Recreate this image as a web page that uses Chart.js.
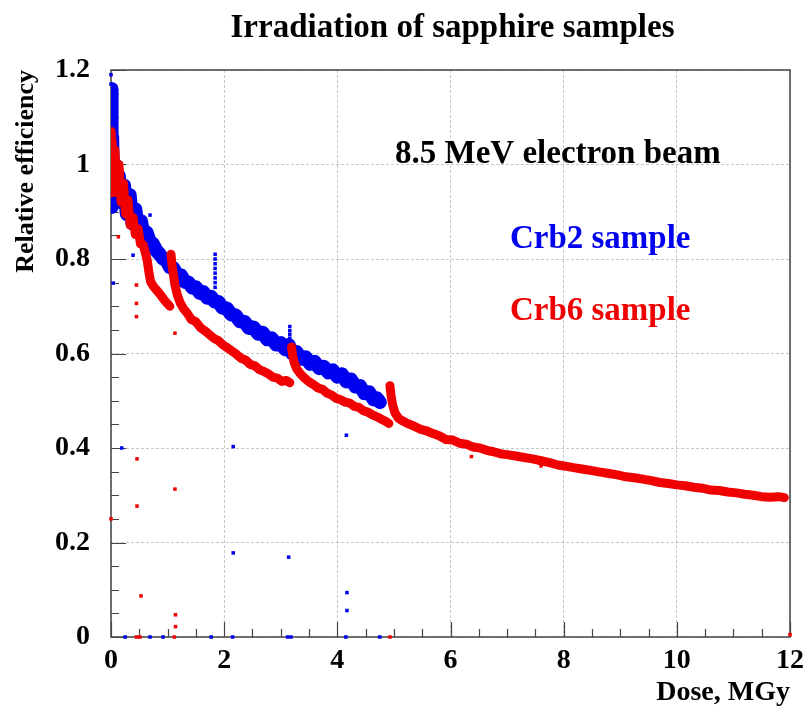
<!DOCTYPE html>
<html>
<head>
<meta charset="utf-8">
<title>Irradiation of sapphire samples</title>
<script src="https://cdn.jsdelivr.net/npm/chart.js@4.4.1/dist/chart.umd.min.js"></script>
<style>
  body { margin: 0; background: #fff; }
  #wrap { width: 811px; height: 707px; }
</style>
</head>
<body>
<div id="wrap"><canvas id="chart" width="811" height="707"></canvas></div>
<script>
// Crb2 sample (blue) - dense band
const crb2Dose = [0, 0.005, 0.01, 0.015, 0.02, 0.04, 0.07, 0.1, 0.14, 0.18, 0.23, 0.28, 0.33, 0.38, 0.43, 0.48, 0.53, 0.58, 0.63, 0.68, 0.74, 0.8, 0.86, 0.92, 0.98, 1.04, 1.1, 1.17, 1.24, 1.3, 1.37, 1.44, 1.5, 1.57, 1.63, 1.7, 1.77, 1.83, 1.9, 1.97, 2.05, 2.12, 2.2, 2.28, 2.36, 2.44, 2.52, 2.6, 2.68, 2.76, 2.84, 2.92, 3.0, 3.08, 3.14, 3.2, 3.28, 3.36, 3.44, 3.52, 3.6, 3.68, 3.76, 3.84, 3.92, 4.0, 4.08, 4.16, 4.24, 4.32, 4.4, 4.48, 4.56, 4.64, 4.7, 4.75];
const crb2Eff = [1.16, 0.91, 1.12, 0.92, 1.06, 0.93, 1.0, 0.935, 0.975, 0.92, 0.955, 0.895, 0.935, 0.875, 0.905, 0.86, 0.88, 0.848, 0.856, 0.838, 0.832, 0.818, 0.81, 0.801, 0.797, 0.783, 0.781, 0.766, 0.765, 0.752, 0.75, 0.739, 0.74, 0.728, 0.73, 0.718, 0.72, 0.71, 0.709, 0.697, 0.695, 0.683, 0.681, 0.668, 0.667, 0.654, 0.655, 0.642, 0.644, 0.63, 0.632, 0.619, 0.622, 0.609, 0.618, 0.601, 0.603, 0.589, 0.592, 0.578, 0.582, 0.569, 0.572, 0.56, 0.564, 0.551, 0.556, 0.541, 0.545, 0.53, 0.531, 0.516, 0.518, 0.503, 0.505, 0.497];

// Crb6 sample (red) - null marks a break between runs
const crb6Dose = [0, 0.005, 0.02, 0.04, 0.07, 0.1, 0.14, 0.18, 0.22, 0.26, 0.3, 0.34, 0.39, 0.43, 0.48, 0.52, 0.57, 0.61, 0.64, 0.67, 0.7, 0.75, 0.8, 0.85, 0.9, 0.95, 1.0, 1.04,
  1.05,
  1.06, 1.08, 1.1, 1.13, 1.17, 1.22, 1.28, 1.35, 1.42, 1.5, 1.58, 1.66, 1.74, 1.82, 1.9, 1.98, 2.06, 2.14, 2.22, 2.3, 2.38, 2.46, 2.54, 2.62, 2.7, 2.78, 2.86, 2.94, 3.02, 3.1, 3.16,
  3.17,
  3.19, 3.21, 3.24, 3.28, 3.34, 3.42, 3.5, 3.58, 3.66, 3.74, 3.82, 3.9, 3.98, 4.06, 4.14, 4.22, 4.3, 4.38, 4.46, 4.54, 4.62, 4.7, 4.78, 4.86, 4.91,
  4.92,
  4.93, 4.95, 4.98, 5.02, 5.08, 5.16, 5.26, 5.36, 5.46, 5.56, 5.68, 5.8, 5.92, 6.04, 6.16, 6.28, 6.4, 6.52, 6.64, 6.76, 6.88, 7.0, 7.15, 7.3, 7.45, 7.6, 7.75, 7.9, 8.05, 8.2, 8.35, 8.5, 8.65, 8.8, 8.95, 9.1, 9.25, 9.4, 9.55, 9.7, 9.85, 10.0, 10.15, 10.3, 10.45, 10.6, 10.75, 10.9, 11.05, 11.2, 11.35, 11.5, 11.65, 11.8, 11.9];
const crb6Eff = [1.07, 0.94, 1.05, 0.95, 1.03, 0.94, 1.0, 0.92, 0.96, 0.895, 0.925, 0.872, 0.888, 0.852, 0.864, 0.832, 0.83, 0.812, 0.797, 0.772, 0.752, 0.742, 0.735, 0.728, 0.72, 0.712, 0.705, 0.7,
  null,
  0.81, 0.785, 0.77, 0.745, 0.725, 0.708, 0.695, 0.685, 0.672, 0.667, 0.655, 0.648, 0.64, 0.632, 0.627, 0.618, 0.612, 0.605, 0.598, 0.59, 0.586, 0.577, 0.574, 0.566, 0.562, 0.557, 0.55, 0.548, 0.541, 0.543, 0.538,
  null,
  0.614, 0.596, 0.58, 0.568, 0.558, 0.548, 0.54, 0.534, 0.527, 0.524, 0.516, 0.512, 0.505, 0.502, 0.497, 0.495, 0.488, 0.486, 0.479, 0.476, 0.47, 0.466, 0.461, 0.456, 0.452,
  null,
  0.532, 0.51, 0.49, 0.474, 0.463, 0.457, 0.451, 0.446, 0.44, 0.437, 0.431, 0.426, 0.418, 0.417, 0.41, 0.408, 0.402, 0.4, 0.395, 0.392, 0.388, 0.386, 0.383, 0.38, 0.377, 0.373, 0.369, 0.364, 0.361, 0.358, 0.355, 0.352, 0.349, 0.346, 0.343, 0.339, 0.337, 0.334, 0.331, 0.327, 0.325, 0.322, 0.32, 0.317, 0.315, 0.311, 0.31, 0.307, 0.305, 0.302, 0.3, 0.297, 0.296, 0.297, 0.295];

// stray points
const crb2OutDose = [0, 0, 0.04, 0.39, 0.19, 0.69, 1.84, 1.84, 1.84, 1.84, 1.84, 1.84, 1.84, 1.84, 2.16, 2.16, 3.16, 3.16, 3.16, 3.16, 3.14, 4.16, 4.17, 4.17, 0.25, 0.69, 0.92, 1.77, 2.15, 3.12, 3.18, 4.15, 4.75];
const crb2OutEff = [1.19, 1.17, 0.749, 0.808, 0.40, 0.893, 0.81, 0.8, 0.79, 0.78, 0.77, 0.76, 0.75, 0.74, 0.403, 0.178, 0.657, 0.648, 0.64, 0.632, 0.169, 0.427, 0.094, 0.056, 0, 0, 0, 0, 0, 0, 0, 0, 0];
const crb6OutDose = [0, 0.13, 0.45, 0.45, 0.45, 0.46, 0.46, 0.53, 1.13, 1.13, 1.14, 1.14, 6.37, 7.6, 0.45, 0.51, 1.12, 4.93, 12.0];
const crb6OutEff = [0.25, 0.847, 0.745, 0.706, 0.678, 0.377, 0.277, 0.087, 0.643, 0.313, 0.047, 0.022, 0.382, 0.362, 0, 0, 0, 0, 0.005];

// axes
const xTickValues = [0, 2, 4, 6, 8, 10, 12];
const xTickLabels = ['0', '2', '4', '6', '8', '10', '12'];
const yTickValues = [0, 0.2, 0.4, 0.6, 0.8, 1.0, 1.2];
const yTickLabels = ['0', '0.2', '0.4', '0.6', '0.8', '1', '1.2'];
const xMinorStep = 0.5;
const yMinorStep = 0.05;

const BLUE = '#0000f0';
const RED = '#f00000';
const SERIF = '"Liberation Serif", "Times New Roman", serif';

function toPoints(xs, ys) {
  return xs.map((x, i) => ({ x: x, y: ys[i] }));
}

// title, annotations, frame and ROOT-like inner ticks
const decorations = {
  id: 'decorations',
  beforeDatasetsDraw(chart) {
    const { ctx, chartArea: a, scales: { x, y } } = chart;
    ctx.save();
    ctx.strokeStyle = '#444';
    ctx.lineWidth = 1.2;
    ctx.beginPath();
    for (let v = 0; v <= 12 + 1e-9; v += xMinorStep) {
      const px = Math.round(x.getPixelForValue(v)) + 0.5;
      const major = Math.abs(v / 2 - Math.round(v / 2)) < 1e-6;
      ctx.moveTo(px, a.bottom);
      ctx.lineTo(px, a.bottom - (major ? 15 : 8));
    }
    for (let v = 0; v <= 1.2 + 1e-9; v += yMinorStep) {
      const py = Math.round(y.getPixelForValue(v)) + 0.5;
      const major = Math.abs(v / 0.2 - Math.round(v / 0.2)) < 1e-6;
      ctx.moveTo(a.left, py);
      ctx.lineTo(a.left + (major ? 15 : 8), py);
    }
    ctx.stroke();
    ctx.lineWidth = 1.5;
    ctx.strokeRect(a.left, a.top, a.right - a.left, a.bottom - a.top);
    ctx.restore();
  },
  afterDraw(chart) {
    const { ctx, chartArea: a, scales: { x, y } } = chart;
    ctx.save();
    ctx.textBaseline = 'alphabetic';
    ctx.fillStyle = '#000';
    ctx.font = 'bold 33px ' + SERIF;
    ctx.textAlign = 'center';
    ctx.fillText('Irradiation of sapphire samples', (a.left + a.right) / 2 + 2, 37);

    ctx.textAlign = 'left';
    ctx.fillText('8.5 MeV electron beam', x.getPixelForValue(5.02), y.getPixelForValue(1.003));
    ctx.fillStyle = BLUE;
    ctx.fillText('Crb2 sample', x.getPixelForValue(7.05), y.getPixelForValue(0.823));
    ctx.fillStyle = RED;
    ctx.fillText('Crb6 sample', x.getPixelForValue(7.05), y.getPixelForValue(0.671));
    ctx.restore();
  }
};

const gridStyle = {
  color: 'rgba(0,0,0,0.22)',
  lineWidth: 1,
  drawTicks: false
};

new Chart(document.getElementById('chart'), {
  type: 'scatter',
  data: {
    datasets: [
      {
        label: 'Crb6 sample',
        data: toPoints(crb6Dose, crb6Eff),
        showLine: true,
        borderColor: RED,
        borderWidth: 9,
        borderJoinStyle: 'round',
        borderCapStyle: 'round',
        pointRadius: 0,
        clip: 0,
        order: 0
      },
      {
        label: 'Crb6 stray',
        data: toPoints(crb6OutDose, crb6OutEff),
        backgroundColor: RED,
        borderWidth: 0,
        pointStyle: 'rect',
        pointRadius: 2.5,
        clip: false,
        order: 0
      },
      {
        label: 'Crb2 sample',
        data: toPoints(crb2Dose, crb2Eff),
        showLine: true,
        borderColor: BLUE,
        borderWidth: 14,
        borderJoinStyle: 'round',
        borderCapStyle: 'round',
        pointRadius: 0,
        clip: 0,
        order: 1
      },
      {
        label: 'Crb2 stray',
        data: toPoints(crb2OutDose, crb2OutEff),
        backgroundColor: BLUE,
        borderWidth: 0,
        pointStyle: 'rect',
        pointRadius: 2.5,
        clip: false,
        order: 1
      }
    ]
  },
  options: {
    responsive: false,
    animation: false,
    layout: { padding: { left: 0, right: 21, top: 70, bottom: 0 } },
    plugins: {
      legend: { display: false },
      tooltip: { enabled: false }
    },
    scales: {
      x: {
        type: 'linear',
        min: 0,
        max: 12,
        afterFit: (s) => { s.height = 70; },
        afterBuildTicks: (s) => { s.ticks = xTickValues.map(v => ({ value: v })); },
        ticks: {
          color: '#000',
          padding: 7,
          maxRotation: 0,
          font: { family: SERIF, size: 28, weight: 'bold' },
          callback: (v) => xTickLabels[xTickValues.indexOf(v)]
        },
        grid: gridStyle,
        border: { display: false, dash: [3, 2] },
        title: {
          display: true,
          text: 'Dose, MGy',
          align: 'end',
          color: '#000',
          padding: 0,
          font: { family: SERIF, size: 28, weight: 'bold', lineHeight: 1 }
        }
      },
      y: {
        type: 'linear',
        min: 0,
        max: 1.2,
        afterFit: (s) => { s.width = 111; },
        afterBuildTicks: (s) => { s.ticks = yTickValues.map(v => ({ value: v })); },
        ticks: {
          color: '#000',
          padding: 21,
          font: { family: SERIF, size: 28, weight: 'bold' },
          callback: (v) => yTickLabels[yTickValues.indexOf(v)]
        },
        grid: gridStyle,
        border: { display: false, dash: [3, 2] },
        title: {
          display: true,
          text: 'Relative efficiency',
          align: 'end',
          color: '#000',
          padding: { top: 13 },
          font: { family: SERIF, size: 26, weight: 'bold', lineHeight: 1 }
        }
      }
    }
  },
  plugins: [decorations]
});
</script>
</body>
</html>
